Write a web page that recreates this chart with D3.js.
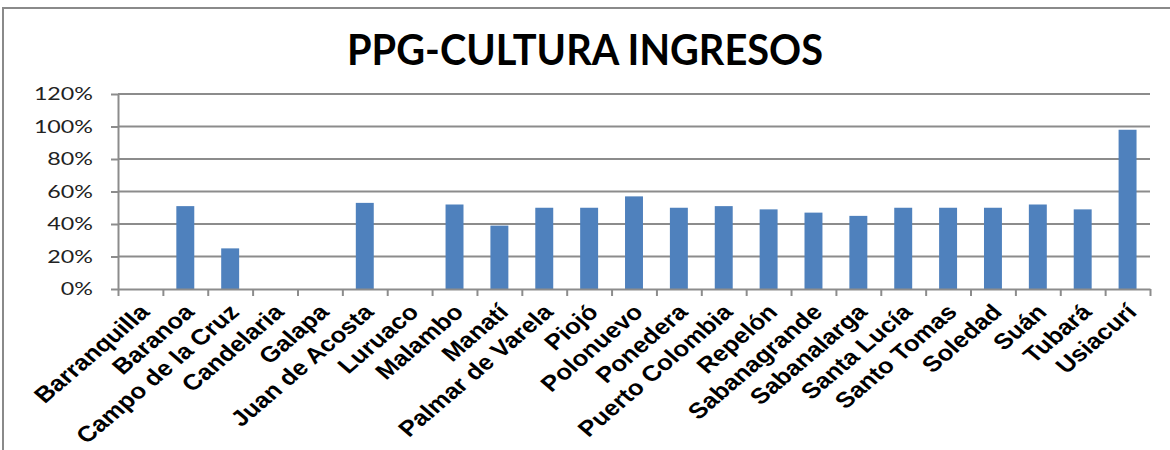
<!DOCTYPE html>
<html>
<head>
<meta charset="utf-8">
<script src="https://cdn.jsdelivr.net/npm/d3@7"></script>
<style>
  body { margin: 0; background: #fff; }
  #chart { width: 1170px; height: 450px; }
</style>
</head>
<body>
<div id="chart"></div>
<script>
// datos del grafico
const municipios = ["Barranquilla", "Baranoa", "Campo de la Cruz", "Candelaria", "Galapa",
    "Juan de Acosta", "Luruaco", "Malambo", "Manatí", "Palmar de Varela", "Piojó",
    "Polonuevo", "Ponedera", "Puerto Colombia", "Repelón", "Sabanagrande", "Sabanalarga",
    "Santa Lucía", "Santo Tomas", "Soledad", "Suán", "Tubará", "Usiacurí"];
const ingresos = [0, 0.51, 0.25, 0, 0, 0.53, 0, 0.52, 0.39, 0.50, 0.50,
    0.57, 0.50, 0.51, 0.49, 0.47, 0.45, 0.50, 0.50, 0.50, 0.52, 0.49, 0.98];
const yTicks = [0, 0.2, 0.4, 0.6, 0.8, 1.0, 1.2];
const titulo = "PPG-CULTURA INGRESOS";

const width = 1170, height = 450;
const margin = { top: 94, right: 20, bottom: 161, left: 118 };
const sx = 1.33;    // el original esta estirado horizontalmente
const sxLab = 1.17; // estiramiento de las etiquetas inclinadas

const data = municipios.map((m, i) => ({ nombre: m, valor: ingresos[i] }));

const svg = d3.select("#chart")
    .append("svg")
    .attr("width", width)
    .attr("height", height);

// marco
svg.append("path")
    .attr("d", `M3,${height} L3,8 L${width},8`)
    .attr("fill", "none")
    .attr("stroke", "#8a8a8a")
    .attr("stroke-width", 2);

const x0 = margin.left, x1 = 1150;
const y0 = height - margin.bottom, y1 = margin.top;

const x = d3.scaleBand()
    .domain(municipios)
    .range([x0, x1])
    .paddingInner(0.6)
    .paddingOuter(0.3);

const xEdge = d3.scaleLinear()
    .domain([0, municipios.length])
    .range([x0, x1]);

const y = d3.scaleLinear()
    .domain([0, 1.2])
    .range([y0, y1]);

// lineas de cuadricula
svg.append("g")
    .selectAll("line")
    .data(yTicks.slice(1))
    .enter()
    .append("line")
    .attr("x1", x0)
    .attr("x2", x1)
    .attr("y1", d => y(d))
    .attr("y2", d => y(d))
    .attr("stroke", "#8c8c8c")
    .attr("stroke-width", 2);

// barras
svg.append("g")
    .selectAll("rect")
    .data(data)
    .enter()
    .append("rect")
    .attr("x", d => x(d.nombre))
    .attr("y", d => y(d.valor))
    .attr("width", x.bandwidth())
    .attr("height", d => y0 - y(d.valor))
    .attr("fill", "#4f81bd");

// eje Y
const yAxis = svg.append("g")
    .attr("transform", `translate(${x0},0)`)
    .call(d3.axisLeft(y).tickValues(yTicks).tickFormat(d3.format(".0%")).tickSize(7).tickSizeOuter(0));
yAxis.select(".domain").attr("stroke", "#8c8c8c").attr("stroke-width", 2);
yAxis.selectAll(".tick line").attr("stroke", "#8c8c8c").attr("stroke-width", 2);
yAxis.selectAll(".tick text")
    .attr("x", -25 / sx)
    .attr("transform", `scale(${sx},1)`)
    .attr("fill", "#222")
    .style("font-family", "Lato, 'Open Sans', sans-serif")
    .style("font-size", "17.5px");

// eje X: marcas entre categorias
const xAxis = svg.append("g")
    .attr("transform", `translate(0,${y0})`)
    .call(d3.axisBottom(xEdge).tickValues(d3.range(municipios.length + 1)).tickFormat("").tickSize(7).tickSizeOuter(0));
xAxis.select(".domain").attr("stroke", "#8c8c8c").attr("stroke-width", 2);
xAxis.selectAll(".tick line").attr("stroke", "#8c8c8c").attr("stroke-width", 2);

// etiquetas de categorias
const xLab = svg.append("g")
    .attr("transform", `translate(0,${y0})`)
    .call(d3.axisBottom(x).tickSize(0));
xLab.select(".domain").remove();
xLab.selectAll(".tick text")
    .attr("x", 0)
    .attr("y", 0)
    .attr("dy", "0.35em")
    .attr("text-anchor", "end")
    .attr("transform", `translate(4,19) scale(${sxLab},1) rotate(-45)`)
    .attr("fill", "#000")
    .style("font-family", "'Liberation Sans', Arial, sans-serif")
    .style("font-weight", "bold")
    .style("font-size", "22px");

// titulo
svg.append("text")
    .attr("x", 585)
    .attr("y", 65)
    .attr("text-anchor", "middle")
    .attr("textLength", 476)
    .attr("lengthAdjust", "spacingAndGlyphs")
    .style("font-family", "Lato, 'Open Sans', sans-serif")
    .style("font-weight", "bold")
    .style("font-size", "42px")
    .attr("fill", "#000")
    .text(titulo);
</script>
</body>
</html>
